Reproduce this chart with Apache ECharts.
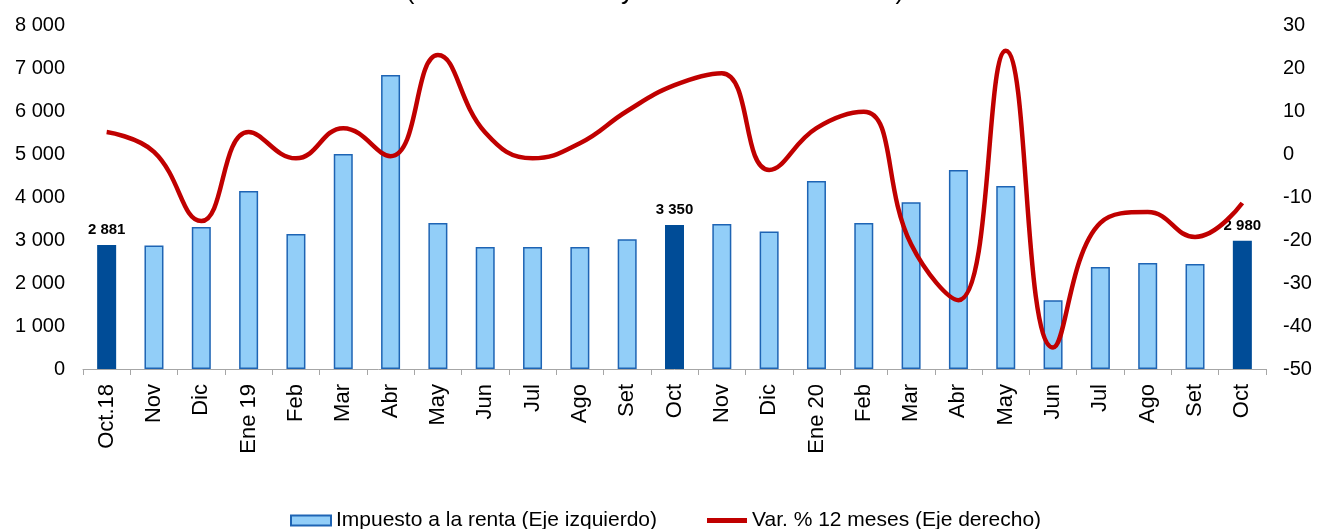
<!DOCTYPE html>
<html>
<head>
<meta charset="utf-8">
<script src="https://cdn.jsdelivr.net/npm/echarts@6/dist/echarts.min.js"></script>
<style>
html,body{margin:0;padding:0;background:#fff;}
#chart{width:1317px;height:529px;}
</style>
</head>
<body>
<div id="chart"></div>
<script>
const categories = ['Oct.18','Nov','Dic','Ene 19','Feb','Mar','Abr','May','Jun','Jul','Ago','Set','Oct','Nov','Dic','Ene 20','Feb','Mar','Abr','May','Jun','Jul','Ago','Set','Oct'];
const impuesto = [2881,2870,3300,4140,3140,5000,6840,3395,2840,2840,2840,3020,3350,3370,3200,4370,3395,3880,4630,4255,1600,2370,2465,2440,2980];
const variacion = [5.1,0.5,-15.6,5.1,-1,6,-0.5,23,5,-1,2.5,10,16,18.8,-3.7,6,9.8,-21,-34,24,-45,-16,-13.5,-19.3,-11.4];
const highlighted = [0,12,24];
const leftTicks = {min:0,max:8000,interval:1000};
const rightTicks = {min:-50,max:30,interval:10};
const titleText = '(Millones de soles y variación % 12 meses)';
const seriesNames = ['Impuesto a la renta (Eje izquierdo)','Var. % 12 meses (Eje derecho)'];

const FONT = '"Liberation Sans", Arial, sans-serif';
const fmt = v => String(v).replace(/\B(?=(\d{3})+(?!\d))/g,' ');

const chart = echarts.init(document.getElementById('chart'), null, {renderer:'canvas'});
const barData = impuesto.map((v,i)=>{
  if (highlighted.includes(i)) {
    return {value:v, itemStyle:{color:'#004C97', borderColor:'#004C97'},
      label:{show:true, position:'top', formatter:p=>fmt(p.value), fontWeight:'bold', fontSize:15, color:'#000', fontFamily:FONT, distance:8}};
  }
  return v;
});
chart.setOption({
  animation:false,
  backgroundColor:'#fff',
  title:{text:titleText, left:650, top:-26, textAlign:'center',
    textStyle:{fontFamily:FONT, fontSize:26, fontWeight:'normal', color:'#000'}},
  grid:{left:83, right:51, top:25, bottom:160, containLabel:false},
  legend:{left:285, top:505, itemGap:50, itemWidth:40, itemHeight:10,
    textStyle:{fontFamily:FONT, fontSize:21, color:'#000'},
    data:[{name:seriesNames[0], icon:'rect'},
          {name:seriesNames[1], icon:'path://M0,0 L40,0 L40,5 L0,5 Z', itemStyle:{color:'#C00000'}}]},
  xAxis:{type:'category', data:categories, boundaryGap:true,
    axisLine:{lineStyle:{color:'#A6A6A6', width:1}},
    axisTick:{show:true, length:6, lineStyle:{color:'#A6A6A6'}},
    axisLabel:{rotate:90, interval:0, fontFamily:FONT, fontSize:22, color:'#000', margin:15}},
  yAxis:[
    {type:'value', min:leftTicks.min, max:leftTicks.max, interval:leftTicks.interval,
      splitLine:{show:false}, axisLine:{show:false}, axisTick:{show:false},
      axisLabel:{formatter:v=>fmt(v), fontFamily:FONT, fontSize:20, color:'#000', margin:18}},
    {type:'value', min:rightTicks.min, max:rightTicks.max, interval:rightTicks.interval,
      splitLine:{show:false}, axisLine:{show:false}, axisTick:{show:false},
      axisLabel:{fontFamily:FONT, fontSize:20, color:'#000', margin:17}}
  ],
  series:[
    {name:seriesNames[0], type:'bar', yAxisIndex:0, data:barData, barWidth:19,
      itemStyle:{color:'#92CEF8', borderColor:'#1E64B4', borderWidth:1.5}},
    {name:seriesNames[1], type:'line', yAxisIndex:1, data:variacion, smooth:0.45,
      symbol:'none', lineStyle:{color:'#C00000', width:4.5}, itemStyle:{color:'#C00000'}, z:5}
  ]
});
</script>
</body>
</html>
